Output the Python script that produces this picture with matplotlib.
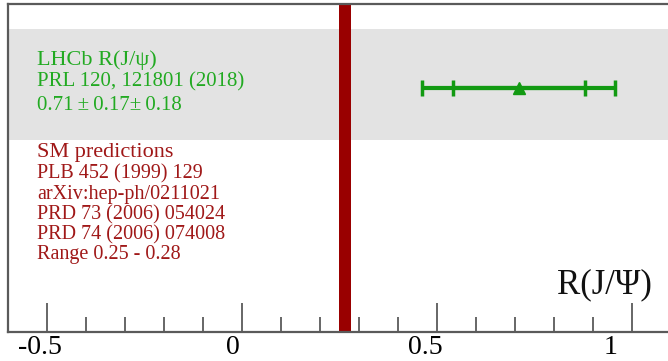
import matplotlib
matplotlib.use('Agg')
import matplotlib.pyplot as plt
import matplotlib.transforms as mtransforms
from matplotlib.ticker import MultipleLocator, FixedLocator

plt.rcParams['font.family'] = ['Liberation Serif', 'DejaVu Serif']

# Measurement and SM prediction
lhcb_value = 0.71
lhcb_stat = 0.17
lhcb_syst = 0.18
sm_low, sm_high = 0.25, 0.28

major_ticks = [-0.5, 0, 0.5, 1]
tick_labels = ['-0.5', '0', '0.5', '1']

lhcb_lines = ['LHCb R(J/\u03c8)', 'PRL 120, 121801 (2018)',
              '0.71\u2009\u00b1\u20090.17\u00b1\u20090.18']
sm_lines = ['SM predictions', 'PLB 452 (1999) 129', 'arXiv:hep-ph/0211021',
            'PRD 73 (2006) 054024', 'PRD 74 (2006) 074008', 'Range 0.25 - 0.28']

W, H = 668, 361
fig = plt.figure(figsize=(W / 100, H / 100), dpi=100)
# frame from x=8 to beyond right edge, y=4 to 332 (pixels)
ax = fig.add_axes([8 / W, (H - 332) / H, 663 / W, 328 / H])
ax.set_xlim(-0.6, 1.1)
ax.set_ylim(0, 1)

frame_col = '#5a5a5a'
for side in ['top', 'bottom', 'left']:
    ax.spines[side].set_color(frame_col)
    ax.spines[side].set_linewidth(1.6)
ax.spines['right'].set_visible(False)

# gray band behind LHCb result
ax.axhspan(0.585, 0.924, color='#e3e3e3', lw=0, zorder=0)
# SM range
ax.axvspan(sm_low, sm_high, color='#990000', lw=0, zorder=2)

tot = (lhcb_stat ** 2 + lhcb_syst ** 2) ** 0.5
y_pt = 0.744
green = '#129a12'
ax.errorbar([lhcb_value], [y_pt], xerr=[[tot], [tot]], fmt='none', ecolor=green,
            elinewidth=3, capsize=6, capthick=2.5, zorder=3)
ax.errorbar([lhcb_value], [y_pt], xerr=[[lhcb_stat], [lhcb_stat]], fmt='none',
            ecolor=green, elinewidth=3, capsize=6, capthick=2.5, zorder=3)
ax.plot([lhcb_value], [y_pt], marker='^', color=green, markersize=9, zorder=4)

ax.xaxis.set_major_locator(FixedLocator(major_ticks))
ax.set_xticklabels(tick_labels)
ax.xaxis.set_minor_locator(MultipleLocator(0.1))
ax.tick_params(axis='x', which='major', direction='in', length=21, width=1.3,
               color=frame_col, labelsize=20, pad=2)
ax.tick_params(axis='x', which='minor', direction='in', length=11, width=1.3,
               color=frame_col)
ax.set_yticks([])
# labels sit a little left of their ticks in the original
label_shift = [-7, -9, -11.5, -21]
for lab, dx in zip(ax.get_xticklabels(), label_shift):
    off = mtransforms.ScaledTranslation(dx / 100, 0, fig.dpi_scale_trans)
    lab.set_transform(lab.get_transform() + off)

def px(x, y):
    return x / W, 1 - y / H

for i, (t, yc) in enumerate(zip(lhcb_lines, [60, 82, 105])):
    fig.text(*px(37, yc), t, color='#22aa22', fontsize=16 if i == 0 else 15,
             va='center', ha='left')

sm_y = [153, 174, 194, 215, 235, 255]
for i, (t, yc) in enumerate(zip(sm_lines, sm_y)):
    fig.text(*px(37, yc), t, color='#a01818', fontsize=16 if i == 0 else 14.5,
             va='center', ha='left')

fig.text(*px(652, 285), 'R(J/\u03a8)', color='#111111', fontsize=25,
         va='center', ha='right')

fig.savefig('out.png', dpi=100)
